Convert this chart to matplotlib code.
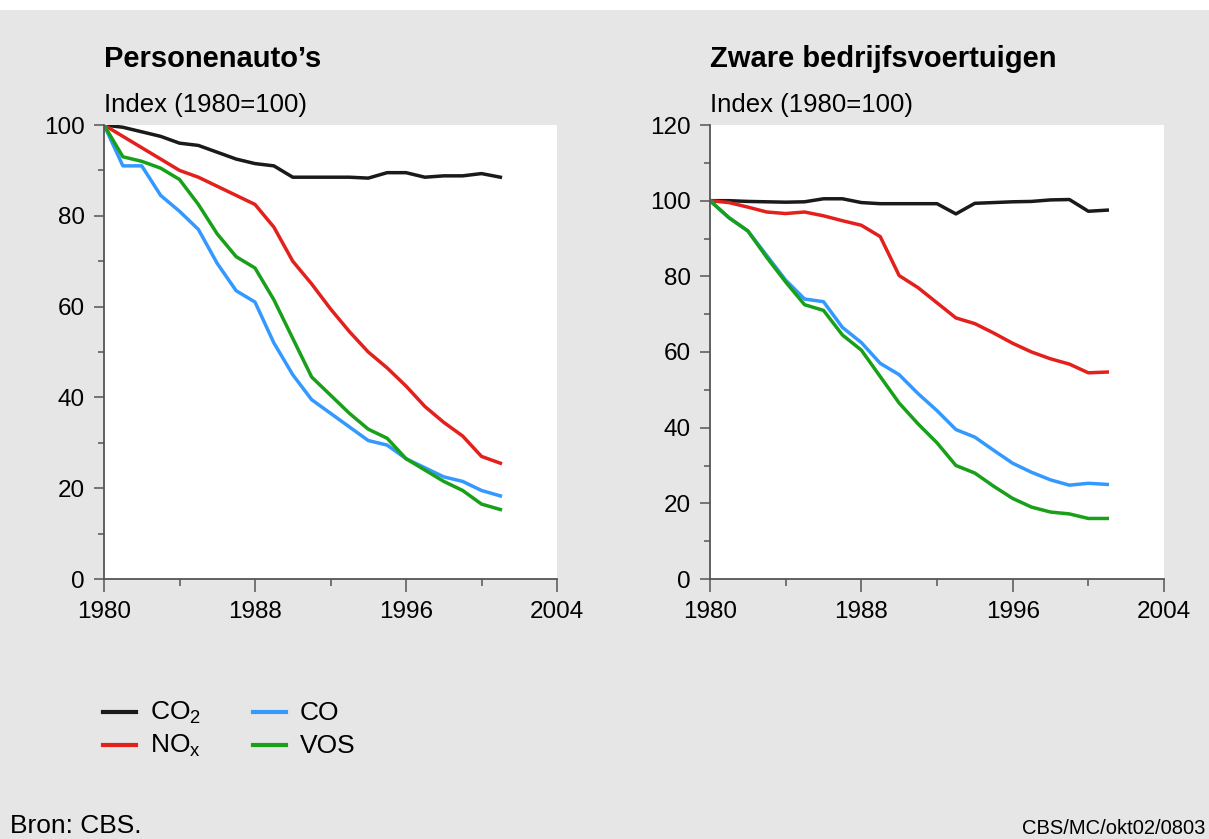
import numpy as np
import matplotlib
matplotlib.use("Agg")
import matplotlib.pyplot as plt
from matplotlib.patches import Rectangle
from matplotlib.lines import Line2D

plt.rcParams['font.family'] = ['Liberation Sans', 'DejaVu Sans']

years = list(range(1980, 2002))

# Personenauto's
car_co2 = [100, 99.5, 98.5, 97.5, 96, 95.5, 94, 92.5, 91.5, 91, 88.5, 88.5,
           88.5, 88.5, 88.3, 89.5, 89.5, 88.5, 88.8, 88.8, 89.3, 88.5]
car_nox = [100, 97.5, 95, 92.5, 90, 88.5, 86.5, 84.5, 82.5, 77.5, 70, 65,
           59.5, 54.5, 50, 46.5, 42.5, 38, 34.5, 31.5, 27, 25.5]
car_co = [100, 91, 91, 84.5, 81, 77, 69.5, 63.5, 61, 52, 45, 39.5,
          36.5, 33.5, 30.5, 29.5, 26.5, 24.5, 22.5, 21.5, 19.5, 18.3]
car_vos = [100, 93, 92, 90.5, 88, 82.5, 76, 71, 68.5, 61.5, 53, 44.5,
           40.5, 36.5, 33, 31, 26.5, 24, 21.5, 19.5, 16.5, 15.3]

# Zware bedrijfsvoertuigen
truck_co2 = [100, 100, 99.8, 99.7, 99.6, 99.7, 100.5, 100.5, 99.5, 99.2, 99.2,
             99.2, 99.2, 96.5, 99.3, 99.5, 99.7, 99.8, 100.2, 100.3, 97.2, 97.5]
truck_nox = [100, 99.5, 98.3, 97, 96.6, 97, 96, 94.7, 93.5, 90.5, 80.2, 77,
             73, 69, 67.5, 65, 62.3, 60, 58.2, 56.8, 54.5, 54.7]
truck_co = [100, 95.5, 92, 85.5, 79, 74, 73.3, 66.5, 62.5, 57, 54, 49,
            44.5, 39.5, 37.5, 34, 30.6, 28.2, 26.2, 24.8, 25.3, 25]
truck_vos = [100, 95.5, 92, 85, 78.5, 72.5, 71, 64.5, 60.5, 53.5, 46.5, 41,
             36, 30, 28, 24.5, 21.3, 19, 17.7, 17.2, 16, 16]

labels = ['CO$_\\mathregular{2}$', 'NO$_\\mathregular{x}$', 'CO', 'VOS']
colors = ['#1a1a1a', '#e3201c', '#3399ff', '#18a018']

W, H = 1209, 839
bg = '#e6e6e6'
fig = plt.figure(figsize=(W / 100, H / 100), dpi=100, facecolor='white')
fig.patches.append(Rectangle((0, 0), 1, 1 - 10 / H, transform=fig.transFigure,
                             facecolor=bg, edgecolor='none', zorder=-10))


def make_panel(rect, title, series, ymax):
    ax = fig.add_axes(rect)
    ax.set_facecolor('white')
    for vals, c in zip(series, colors):
        ax.plot(years, vals, color=c, lw=2.5, solid_joinstyle='round')
    ax.set_xlim(1980, 2004)
    ax.set_ylim(0, ymax)
    ax.set_xticks([1980, 1988, 1996, 2004])
    ax.set_xticks([1984, 1992, 2000], minor=True)
    ax.set_yticks(np.arange(0, ymax + 1, 20))
    ax.set_yticks(np.arange(10, ymax, 20), minor=True)
    for s in ['top', 'right']:
        ax.spines[s].set_visible(False)
    for s in ['left', 'bottom']:
        ax.spines[s].set_color('#555555')
        ax.spines[s].set_linewidth(1.3)
    ax.tick_params(which='both', direction='out', width=1.1,
                   color='#555555', labelsize=17.5)
    ax.tick_params(axis='x', which='major', length=9, pad=7)
    ax.tick_params(axis='x', which='minor', length=5)
    ax.tick_params(axis='y', which='major', length=7, pad=7)
    ax.tick_params(axis='y', which='minor', length=4)
    x0 = rect[0]
    fig.text(x0, 1 - 59 / H, title, fontsize=21, fontweight='bold',
             ha='left', va='center')
    fig.text(x0, 1 - 105 / H, 'Index (1980=100)', fontsize=18.5,
             ha='left', va='center')
    return ax


ax1 = make_panel([104 / W, 1 - 579 / H, 453 / W, 454 / H],
                 "Personenauto\u2019s", [car_co2, car_nox, car_co, car_vos], 100)
ax2 = make_panel([710 / W, 1 - 579 / H, 454 / W, 454 / H],
                 'Zware bedrijfsvoertuigen',
                 [truck_co2, truck_nox, truck_co, truck_vos], 120)

# legend, two columns
leg_x = [103, 253]
leg_y = [712, 745]
for i, (lab, c) in enumerate(zip(labels, colors)):
    col, row = i // 2, i % 2
    x, y = leg_x[col], leg_y[row]
    fig.add_artist(Line2D([x / W, (x + 33) / W], [1 - y / H, 1 - y / H],
                          color=c, lw=3, transform=fig.transFigure))
    fig.text((x + 47) / W, 1 - (y + 1) / H, lab, fontsize=19,
             ha='left', va='center')

fig.text(10 / W, 1 - 826 / H, 'Bron: CBS.', fontsize=19,
         ha='left', va='center')
fig.text(1205 / W, 1 - 829 / H, 'CBS/MC/okt02/0803', fontsize=14.5,
         ha='right', va='center')

fig.savefig('out.png', dpi=100, facecolor=fig.get_facecolor())
